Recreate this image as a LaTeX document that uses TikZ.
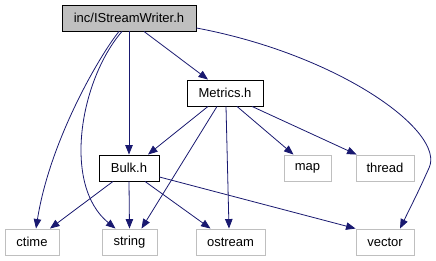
\documentclass[tikz,border=0pt]{standalone}
\usepackage{fontspec}
\setmainfont{Liberation Sans}
\usetikzlibrary{arrows.meta}
\definecolor{edgeblue}{HTML}{191970}
\definecolor{boxgrey}{HTML}{BFBFBF}
\begin{document}
\begin{tikzpicture}[x=1pt,y=-1pt,
  every node/.style={font=\fontsize{13}{15}\selectfont, inner sep=0pt, minimum height=26pt},
  rootbox/.style={draw=black, fill=boxgrey, line width=0.9pt},
  filebox/.style={draw=black, fill=white, line width=0.9pt},
  sysbox/.style={draw=boxgrey, fill=white, line width=0.9pt},
  dep/.style={draw=edgeblue, line width=0.8pt, -{Triangle[length=9.5pt,width=7.5pt]}}]
\useasboundingbox (0,0) rectangle (436,261);
% file nodes
\node[rootbox, minimum width=134pt] (isw) at (129,18) {inc/IStreamWriter.h};
\node[filebox, minimum width=76pt] (metrics) at (225,93) {Metrics.h};
\node[filebox, minimum width=60pt] (bulk) at (129,168) {Bulk.h};
% system headers
\node[sysbox, minimum width=47pt] (map) at (307.5,168) {map};
\node[sysbox, minimum width=58pt] (thread) at (385,168) {thread};
\node[sysbox, minimum width=54pt] (ctime) at (32,242) {ctime};
\node[sysbox, minimum width=55pt] (string) at (129.5,242) {string};
\node[sysbox, minimum width=69pt] (ostream) at (230.5,242) {ostream};
\node[sysbox, minimum width=58pt] (vector) at (385,242) {vector};
% includes of inc/IStreamWriter.h
\draw[dep] ([xshift=-10pt]isw.south) .. controls (100,55) and (50,140) .. ([xshift=4pt]ctime.north);
\draw[dep] ([xshift=-7pt]isw.south) .. controls (80,80) and (62,185) .. ([xshift=-14pt]string.north);
\draw[dep] (isw.south) -- (bulk.north);
\draw[dep] ([xshift=15pt]isw.south) -- ([xshift=-17pt]metrics.north);
\draw[dep] ([yshift=-10pt]isw.east) .. controls (340,55) and (446,132) .. (429,168)
  .. controls (419,190) .. ([xshift=15pt]vector.north);
% includes of Metrics.h
\draw[dep] ([xshift=-17pt]metrics.south) -- ([xshift=19pt]bulk.north);
\draw[dep] ([xshift=-8pt]metrics.south) -- ([xshift=12pt]string.north);
\draw[dep] ([xshift=1pt]metrics.south) -- ([xshift=-1.5pt]ostream.north);
\draw[dep] ([xshift=12pt]metrics.south) -- ([xshift=-14pt]map.north);
\draw[dep] ([xshift=27pt]metrics.south) -- ([xshift=1pt]thread.north west);
% includes of Bulk.h
\draw[dep] ([xshift=-16pt]bulk.south) -- ([xshift=18pt]ctime.north);
\draw[dep] (bulk.south) -- (string.north);
\draw[dep] ([xshift=16pt]bulk.south) -- ([xshift=-20pt]ostream.north);
\draw[dep] ([yshift=-9pt]bulk.east) -- (vector.north west);
\end{tikzpicture}
\end{document}
